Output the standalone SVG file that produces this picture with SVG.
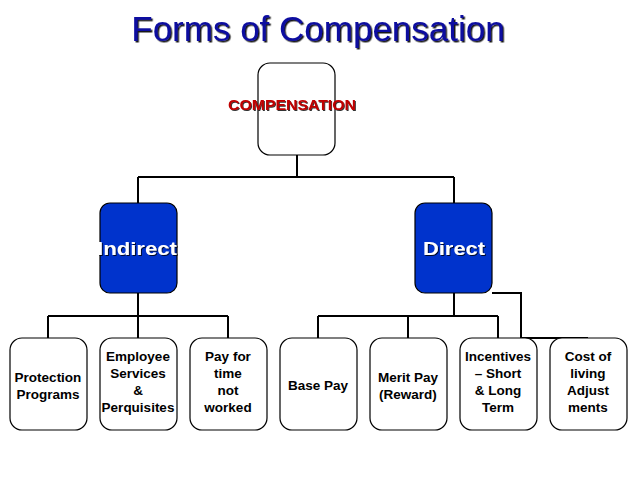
<svg xmlns="http://www.w3.org/2000/svg" width="638" height="479" viewBox="0 0 638 479">
<defs>
<filter id="sh" x="-10%" y="-30%" width="120%" height="160%"><feDropShadow dx="1.5" dy="1.5" stdDeviation="0.3" flood-color="#000" flood-opacity="0.9"/></filter>
<filter id="sh2" x="-10%" y="-30%" width="120%" height="160%"><feDropShadow dx="1" dy="1" stdDeviation="0.2" flood-color="#000" flood-opacity="0.8"/></filter>
</defs>
<style>
.b{fill:#fff;stroke:#000;stroke-width:1.2}
.d{fill:#0033cc;stroke:#000;stroke-width:1.2}
.t{font-family:"Liberation Sans",Arial,sans-serif;font-weight:bold;font-size:13.5px;text-anchor:middle;fill:#000}
.c{fill:none;stroke:#000;stroke-width:2}
</style>
<rect width="638" height="479" fill="#fff"/>
<g id="title">
<text x="318" y="41" font-family="Liberation Sans,Arial,sans-serif" font-size="35" text-anchor="middle" fill="#1010a0" filter="url(#sh)">Forms of Compensation</text>
</g>
<g id="connectors" class="c">
<path d="M297 155V177M138 177H454M138 177V203M454 177V203"/>
<path d="M138 293V316M48 316H228M48 316V338M138 316V338M228 316V338"/>
<path d="M454 293V316M318 316H498M318 316V338M408 316V338M498 316V338"/>
<path d="M492 293H521V338H588"/>
</g>
<g id="compensation">
<rect class="b" x="258" y="63" width="77" height="92" rx="12"/>
<text class="t" x="292" y="110" textLength="128" lengthAdjust="spacingAndGlyphs" style="font-size:14px;fill:#c00000" filter="url(#sh2)">COMPENSATION</text>
</g>
<g id="indirect">
<rect class="d" x="100" y="203" width="77" height="90" rx="10"/>
<text class="t" x="137" y="255" textLength="80" lengthAdjust="spacingAndGlyphs" style="font-size:19px;fill:#fff" filter="url(#sh2)">Indirect</text>
</g>
<g id="direct">
<rect class="d" x="415" y="203" width="77" height="90" rx="10"/>
<text class="t" x="454" y="255" textLength="62" lengthAdjust="spacingAndGlyphs" style="font-size:19px;fill:#fff" filter="url(#sh2)">Direct</text>
</g>
<g id="protection"><rect class="b" x="10" y="338" width="77" height="92" rx="12"/>
<text class="t" x="48" y="382">Protection</text><text class="t" x="48" y="399">Programs</text></g>
<g id="employee"><rect class="b" x="100" y="338" width="77" height="92" rx="12"/>
<text class="t" x="138" y="361">Employee</text><text class="t" x="138" y="378">Services</text><text class="t" x="138" y="395">&amp;</text><text class="t" x="138" y="412">Perquisites</text></g>
<g id="payfor"><rect class="b" x="190" y="338" width="77" height="92" rx="12"/>
<text class="t" x="228" y="361">Pay for</text><text class="t" x="228" y="378">time</text><text class="t" x="228" y="395">not</text><text class="t" x="228" y="412">worked</text></g>
<g id="basepay"><rect class="b" x="280" y="338" width="77" height="92" rx="12"/>
<text class="t" x="318" y="390">Base Pay</text></g>
<g id="merit"><rect class="b" x="370" y="338" width="77" height="92" rx="12"/>
<text class="t" x="408" y="382">Merit Pay</text><text class="t" x="408" y="399">(Reward)</text></g>
<g id="incentives"><rect class="b" x="460" y="338" width="77" height="92" rx="12"/>
<text class="t" x="498" y="361">Incentives</text><text class="t" x="498" y="378">– Short</text><text class="t" x="498" y="395">&amp; Long</text><text class="t" x="498" y="412">Term</text></g>
<g id="cost"><rect class="b" x="550" y="338" width="77" height="92" rx="12"/>
<text class="t" x="588" y="361">Cost of</text><text class="t" x="588" y="378">living</text><text class="t" x="588" y="395">Adjust</text><text class="t" x="588" y="412">ments</text></g>
</svg>
